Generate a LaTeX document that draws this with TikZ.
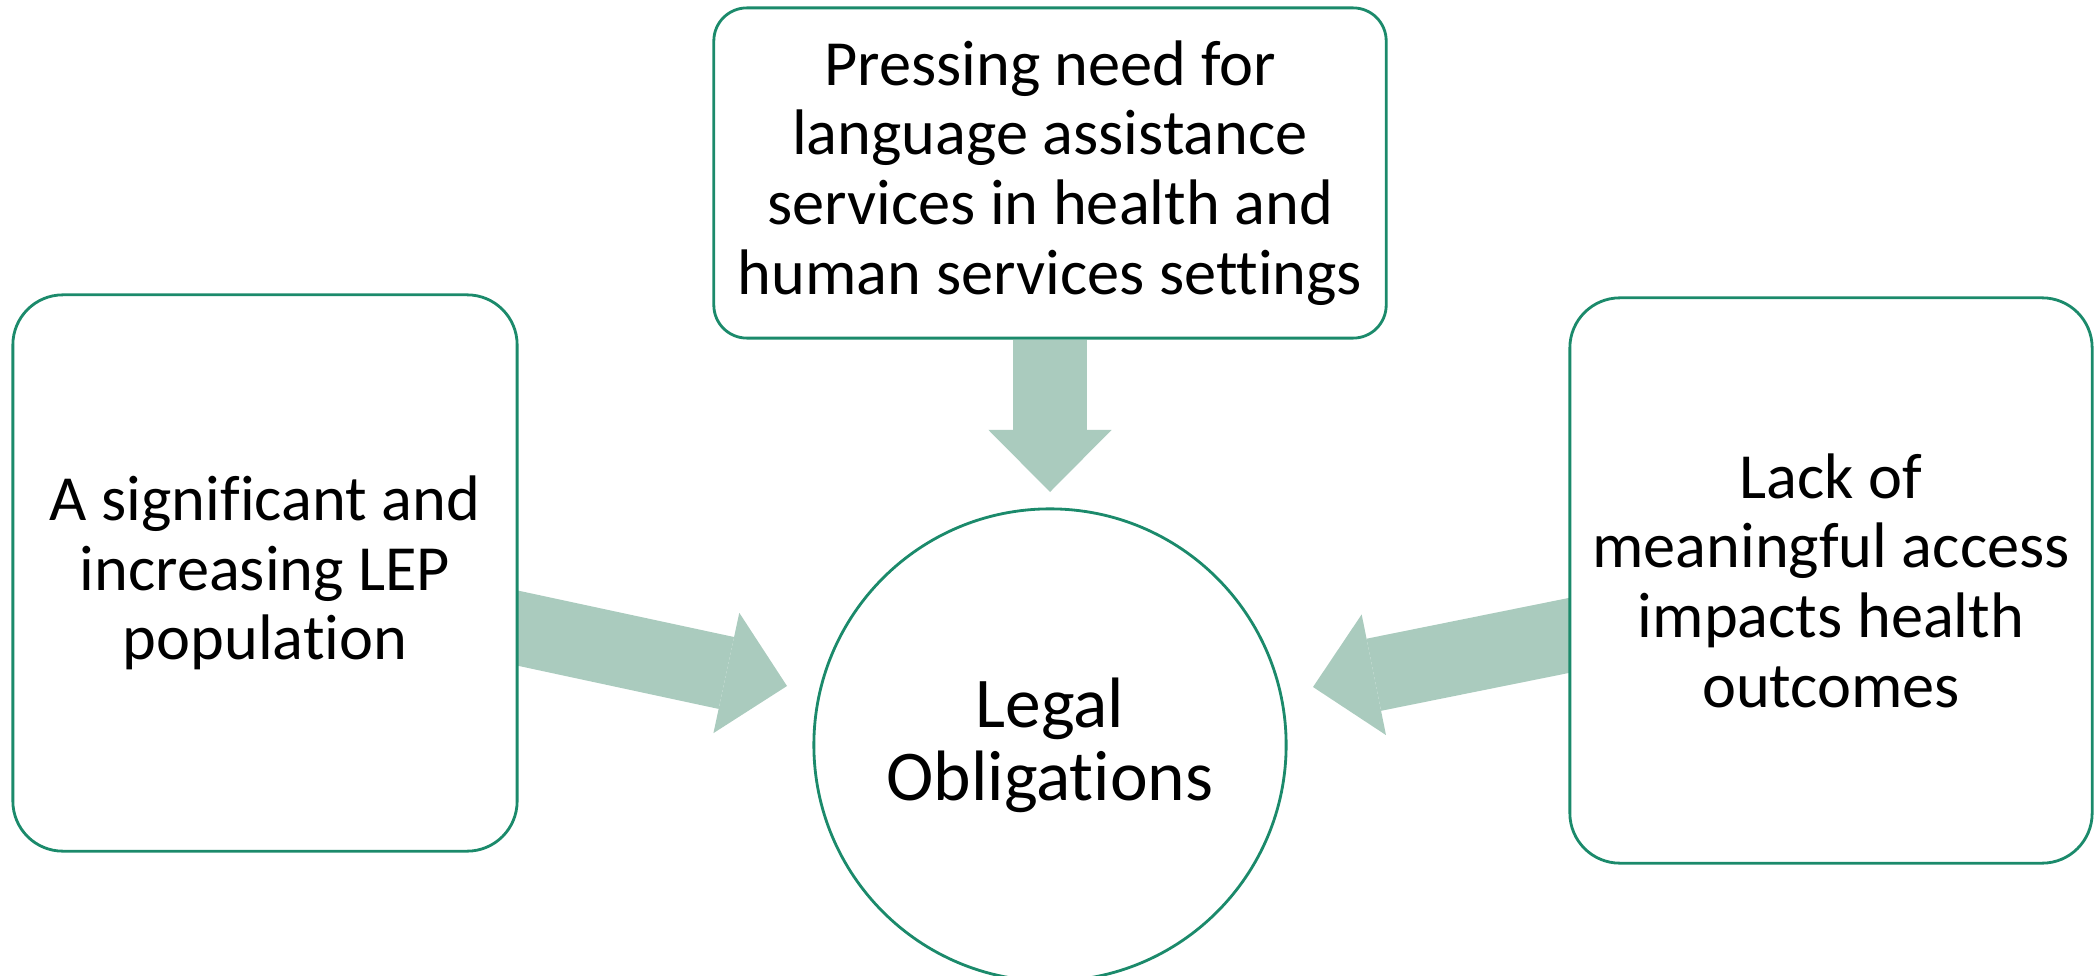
\documentclass[tikz,border=0pt]{standalone}
\usepackage{fontspec}
\setmainfont{Carlito}[Ligatures=NoCommon]
\usetikzlibrary{arrows.meta,calc,backgrounds}
\definecolor{boxline}{RGB}{27,138,107}
\definecolor{arrowfill}{RGB}{170,203,190}

\begin{document}
\begin{tikzpicture}[x=0.01cm, y=-0.01cm,
	box/.style = {draw=boxline, line width=0.8pt, fill=white, rounded corners=0.5cm, align=center, font=\fontsize{18.3pt}{19.8pt}\selectfont},
	main/.style = {draw=boxline, line width=0.8pt, fill=white, circle, inner sep=0pt, minimum size=4.72cm, align=center, font=\fontsize{20.3pt}{20.8pt}\selectfont},
	big/.style = {draw=arrowfill, line width=0.735cm, -{Triangle[width=1.23cm, length=0.62cm, line width=0pt]}}]
	\useasboundingbox (0,0) rectangle (2094,976);
	\node[main] (legal) at (1050,745) {Legal\\Obligations};
	\node[box, minimum width=6.72cm, minimum height=3.3cm, rounded corners=0.33cm] (need) at (1050,173) {Pressing need for\\language assistance\\services in health and\\human services settings};
	\node[box, minimum width=5.04cm, minimum height=5.56cm] (lep) at (265,573) {A significant and\\increasing LEP\\population};
	\node[box, minimum width=5.22cm, minimum height=5.65cm] (access) at (1831,580.5) {Lack of\\meaningful access\\impacts health\\outcomes};
	\coordinate (tipT) at (1050,492);
	\coordinate (tipL) at (787,686);
	\coordinate (tipR) at (1313,687);
	% arrows sit behind the boxes
	\begin{pgfonlayer}{background}
		\draw[big] (need.south) -- (tipT);
		\draw[big] ($(lep.east)+(-20,51)$) -- (tipL);
		\draw[big] ($(access.west)+(20,51)$) -- (tipR);
	\end{pgfonlayer}
\end{tikzpicture}
\end{document}
